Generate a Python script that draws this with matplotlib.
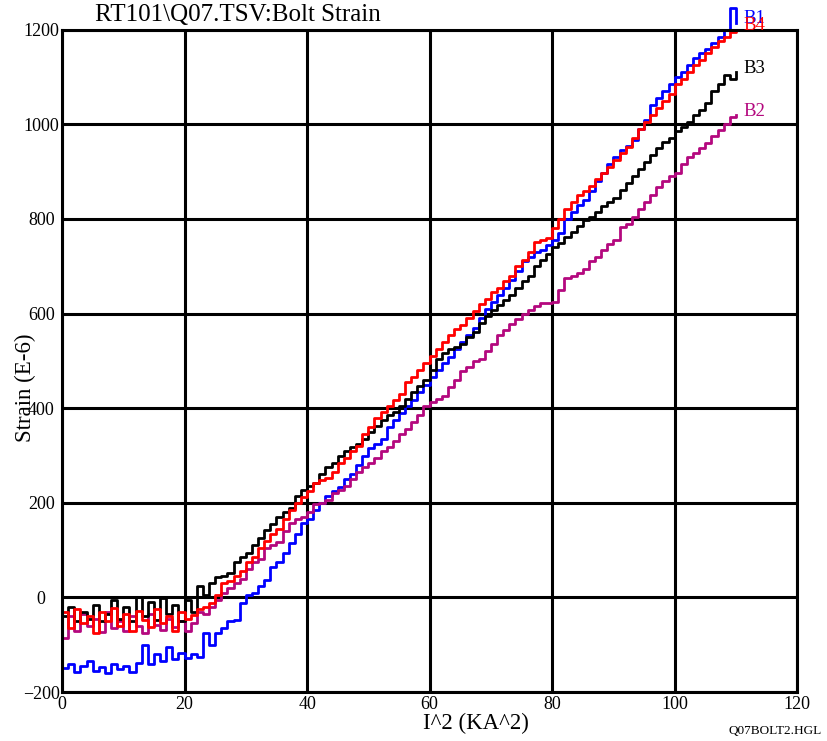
import numpy as np
import matplotlib
matplotlib.use("Agg")
import matplotlib.pyplot as plt

# I^2 (KA^2) sample positions, one per unit
current_sq = list(range(0, 111))

b1 = [-150, -140, -158, -145, -135, -155, -148, -160, -140, -152, -145, -158, -138,
      -100, -140, -120, -135, -105, -130, -118, -128, -120, -125, -75, -100, -75, -65,
      -50, -48, -12, 5, 9, 25, 37, 64, 75, 95, 115, 135, 157, 165, 185, 200, 215, 225,
      233, 250, 260, 280, 300, 315, 325, 335, 360, 375, 390, 405, 418, 435, 450, 466,
      480, 495, 508, 525, 540, 555, 570, 590, 610, 625, 640, 655, 670, 690, 710, 720,
      730, 735, 745, 755, 770, 800, 815, 830, 840, 860, 880, 897, 915, 930, 945, 955,
      967, 990, 1010, 1040, 1055, 1070, 1085, 1100, 1110, 1125, 1140, 1150, 1160, 1172,
      1185, 1200, 1245, 1215]

b2 = [-85, -40, -70, -35, -60, -45, -72, -30, -65, -50, -70, -40, -60, -75, -35, -58,
      -68, -45, -62, -50, -70, -55, -30, -35, -20, -5, 10, 20, 30, 40, 60, 75, 82, 105,
      110, 118, 140, 157, 165, 170, 180, 198, 200, 205, 220, 228, 235, 250, 265, 275,
      285, 295, 310, 318, 330, 345, 355, 370, 385, 405, 413, 420, 425, 445, 460, 478,
      488, 500, 505, 520, 535, 555, 565, 578, 588, 600, 608, 615, 622, 622, 625, 650,
      675, 680, 686, 695, 710, 720, 735, 748, 755, 783, 790, 805, 820, 835, 850, 868,
      880, 890, 897, 915, 930, 940, 950, 961, 975, 988, 1000, 1016, 1020]

b3 = [-40, -20, -50, -30, -45, -15, -50, -35, -5, -45, -20, -50, 0, -40, -10, -48, -2,
      -35, -15, -50, -5, -30, 25, 5, 30, 43, 45, 52, 75, 85, 94, 110, 125, 142, 155,
      170, 180, 190, 215, 227, 235, 242, 260, 276, 285, 300, 310, 318, 325, 335, 350,
      362, 375, 385, 392, 405, 420, 435, 447, 460, 480, 505, 517, 525, 530, 535, 550,
      560, 580, 595, 608, 618, 628, 640, 655, 668, 680, 700, 713, 725, 741, 750, 762,
      772, 785, 798, 805, 815, 827, 835, 845, 861, 875, 890, 905, 920, 935, 950, 962,
      972, 985, 995, 1005, 1020, 1030, 1045, 1070, 1085, 1105, 1095, 1110]

b4 = [-30, -65, -25, -55, -40, -75, -30, -50, -22, -60, -35, -70, -28, -48, -62, -25,
      -55, -40, -70, -30, -45, -38, -25, -20, -12, 5, 30, 35, 45, 55, 75, 85, 105, 120,
      135, 145, 165, 185, 200, 212, 225, 242, 248, 252, 265, 284, 295, 310, 320, 345,
      360, 380, 392, 405, 417, 430, 455, 465, 480, 496, 510, 525, 540, 555, 568, 575,
      590, 605, 620, 630, 645, 655, 668, 680, 700, 713, 730, 752, 756, 760, 780, 800,
      820, 835, 850, 860, 870, 885, 897, 910, 925, 940, 952, 970, 990, 1005, 1020, 1035,
      1050, 1065, 1085, 1095, 1110, 1125, 1136, 1150, 1164, 1175, 1185, 1195, 1200]

series = [("B1", b1, "#0000ff"), ("B2", b2, "#b4087e"),
          ("B3", b3, "#000000"), ("B4", b4, "#ff0000")]

plt.rcParams["font.family"] = ["Liberation Serif", "DejaVu Serif"]

fig = plt.figure(figsize=(8.27, 7.41), dpi=100)
ax = fig.add_axes([0.075, 0.066, 0.889, 0.894])

for name, vals, col in series:
    ax.plot(current_sq, vals, color=col, lw=2, drawstyle="steps-post", clip_on=False)
    ax.text(current_sq[-1] + 1.3, vals[-1] + 8, name, color=col, fontsize=13.5,
            ha="left", va="center")

ax.set_xlim(0, 120)
ax.set_ylim(-200, 1200)
ax.set_xticks(np.arange(0, 121, 20))
ax.set_yticks(np.arange(-200, 1201, 200))
ax.grid(True, color="black", lw=2.2)
ax.set_axisbelow(True)
ax.tick_params(length=0, labelsize=13)
ax.tick_params(axis="x", pad=3)
ax.tick_params(axis="y", pad=15)
for lab in ax.get_yticklabels():
    lab.set_horizontalalignment("center")
for s in ax.spines.values():
    s.set_linewidth(2.2)

ax.set_xlabel("I^2 (KA^2)", fontsize=16.5)
ax.xaxis.set_label_coords(0.563, -0.031)
ax.set_ylabel("Strain (E-6)", fontsize=16.5)
ax.yaxis.set_label_coords(-0.036, 0.46)
ax.text(0.045, 1.005, "RT101\\Q07.TSV:Bolt Strain", transform=ax.transAxes,
        fontsize=18, ha="left", va="bottom")
fig.text(0.994, 0.006, "Q07BOLT2.HGL", fontsize=9.5, ha="right", va="bottom")

fig.savefig("out.png", dpi=100)
